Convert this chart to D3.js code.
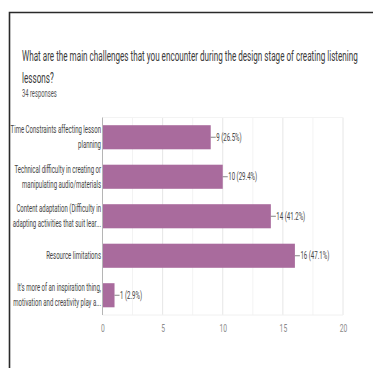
<!DOCTYPE html>
<html>
<head>
<meta charset="utf-8">
<script src="https://cdn.jsdelivr.net/npm/d3@7"></script>
<style>
  html, body { margin: 0; padding: 0; background: #fff; }
  svg { display: block; }
  text { font-family: Roboto, "Liberation Sans", sans-serif; }
</style>
</head>
<body>
<svg id="chart" width="373" height="368"></svg>
<script>
// Survey question and response count
const titleLines = [
  "What are the main challenges that you encounter during the design stage of creating listening",
  "lessons?"
];
const responsesText = "34 responses";

// Answer options (each split into the two lines shown on the axis)
const categoryLines = [
  ["Time Constraints affecting lesson", "planning"],
  ["Technical difficulty in creating or", "manipulating audio/materials"],
  ["Content adaptation (Difficulty in", "adapting activities that suit lear..."],
  ["Resource limitations"],
  ["It's more of an inspiration thing,", "motivation and creativity play a..."]
];
const counts = [9, 10, 14, 16, 1];
const percentLabels = ["26.5%", "29.4%", "41.2%", "47.1%", "2.9%"];
const xTicks = [0, 5, 10, 15, 20];
const xMinorTicks = [2.5, 7.5, 12.5, 17.5];

const svg = d3.select("#chart");
const W = 373, H = 368;
const plot = { left: 102.5, right: 343, top: 117.5, bottom: 315 };

// Card frame (top and left edges)
svg.append("path")
  .attr("d", `M9.5,${H} L9.5,12.5 L${W},12.5`)
  .attr("fill", "none")
  .attr("stroke", "#2a2a2a")
  .attr("stroke-width", 1.6);

const x = d3.scaleLinear().domain([0, 20]).range([plot.left, plot.right]);
const y = d3.scaleBand()
  .domain(d3.range(counts.length))
  .range([plot.top, plot.bottom])
  .paddingInner(0.39)
  .paddingOuter(0.195);

// Narrow text: place at (px, py) and squeeze horizontally by factor s
function narrowText(parent, px, py, str, size, s) {
  return parent.append("text")
    .attr("transform", `translate(${px},${py}) scale(${s},1)`)
    .attr("font-size", size)
    .text(str);
}

// Title: squeeze factor fitted so the first line spans the card width
const title = svg.append("g").attr("fill", "#3a3a3a");
const probe = title.append("text").attr("font-size", 14).text(titleLines[0]);
const k = 336 / probe.node().getComputedTextLength();
probe.remove();
narrowText(title, 22, 61, titleLines[0], 14, k);
narrowText(title, 22, 83, titleLines[1], 14, k);
narrowText(svg, 22, 96.5, responsesText, 10, k).attr("fill", "#555");

// Minor and major vertical gridlines
svg.append("g").selectAll("line").data(xMinorTicks).join("line")
  .attr("x1", d => x(d)).attr("x2", d => x(d))
  .attr("y1", plot.top).attr("y2", plot.bottom)
  .attr("stroke", "#f3f3f3").attr("stroke-width", 1);
svg.append("g").selectAll("line").data(xTicks.slice(1)).join("line")
  .attr("x1", d => x(d)).attr("x2", d => x(d))
  .attr("y1", plot.top).attr("y2", plot.bottom)
  .attr("stroke", "#e6e6e6").attr("stroke-width", 1);
svg.append("line")
  .attr("x1", plot.left).attr("x2", plot.right)
  .attr("y1", plot.top).attr("y2", plot.top)
  .attr("stroke", "#f3f3f3");
svg.append("line")
  .attr("x1", plot.left).attr("x2", plot.right)
  .attr("y1", plot.bottom).attr("y2", plot.bottom)
  .attr("stroke", "#f0f0f0");

// Bars
svg.append("g").selectAll("rect").data(counts).join("rect")
  .attr("x", x(0))
  .attr("y", (d, i) => y(i))
  .attr("width", d => x(d) - x(0))
  .attr("height", y.bandwidth())
  .attr("fill", "#a96b9d");

// Baseline axis
svg.append("line")
  .attr("x1", plot.left).attr("x2", plot.left)
  .attr("y1", plot.top).attr("y2", plot.bottom)
  .attr("stroke", "#b5b5b5").attr("stroke-width", 1);

// Value labels with leader ticks
const vl = svg.append("g").attr("fill", "#444");
counts.forEach((d, i) => {
  const cy = y(i) + y.bandwidth() / 2;
  vl.append("line")
    .attr("x1", x(d)).attr("x2", x(d) + 5)
    .attr("y1", cy).attr("y2", cy)
    .attr("stroke", "#666").attr("stroke-width", 0.8);
  narrowText(vl, x(d) + 5.5, cy + 3.4, `${d} (${percentLabels[i]})`, 10.5, k);
});

// Category labels
const cl = svg.append("g").attr("text-anchor", "end").attr("fill", "#444");
categoryLines.forEach((lines, i) => {
  const cy = y(i) + y.bandwidth() / 2;
  const lh = 15;
  lines.forEach((ln, j) => {
    const off = (j - (lines.length - 1) / 2) * lh;
    narrowText(cl, 101, cy + off + 3.4, ln, 10, k * 1.04);
  });
});

// X axis tick labels
const xAxis = d3.axisBottom(x).tickValues(xTicks).tickSize(0).tickPadding(9);
const ax = svg.append("g").attr("transform", `translate(0,${plot.bottom})`).call(xAxis);
ax.select(".domain").remove();
ax.selectAll("text")
  .attr("font-family", "Roboto, sans-serif")
  .attr("font-size", 11)
  .attr("fill", "#8a8a8a")
  .attr("transform", `scale(${k * 1.05},1)`);
</script>
</body>
</html>
